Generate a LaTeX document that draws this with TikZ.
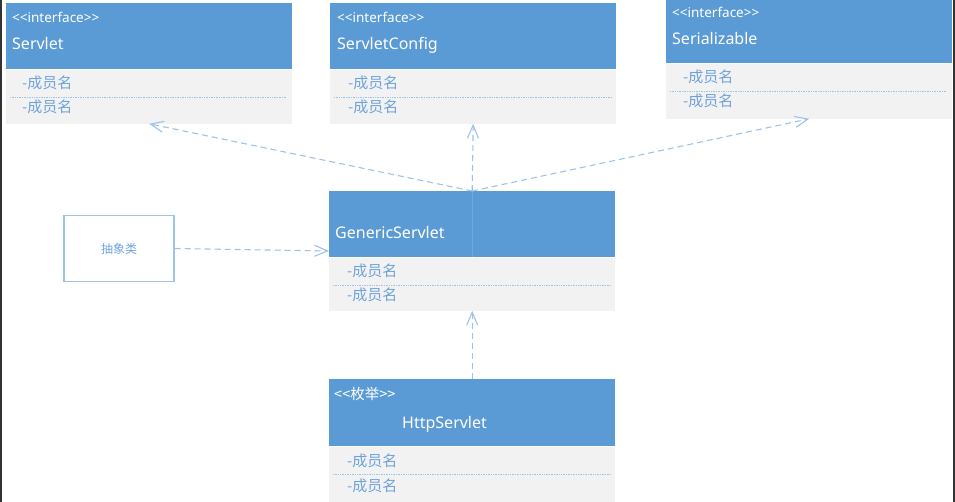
\documentclass[tikz,border=0pt]{standalone}
\usepackage{fontspec}
\setmainfont{Noto Sans}
\newfontfamily\cjk{Noto Sans CJK SC}
\usetikzlibrary{arrows.meta}

\definecolor{hdrblue}{HTML}{5B9BD5}
\definecolor{bodygray}{HTML}{F2F2F2}
\definecolor{linkblue}{HTML}{9DC3E6}
\definecolor{membertext}{HTML}{6FA3DB}

\tikzset{
  header/.style={fill=hdrblue, anchor=north west, inner sep=0pt, minimum width=286pt},
  body/.style={fill=bodygray, anchor=north west, inner sep=0pt, minimum width=286pt},
  stereo/.style={anchor=base west, text=white, inner sep=0pt, font=\fontsize{13.5}{16}\selectfont},
  classname/.style={anchor=base west, text=white, inner sep=0pt, font=\fontsize{16}{19}\selectfont},
  member/.style={anchor=base west, text=membertext, inner sep=0pt, font=\cjk\fontsize{15}{17}\selectfont},
  divider/.style={draw=linkblue, densely dotted, line width=0.7pt},
  realize/.style={draw=linkblue, dash pattern=on 6pt off 4pt, line width=1.1pt,
    -{Straight Barb[length=13pt,width=11pt]}},
}

\begin{document}
\begin{tikzpicture}[x=1pt, y=-1pt]
\useasboundingbox (0,0) rectangle (955,502);
% window edges
\draw[black!80, line width=1.5pt] (0.75,0) -- (0.75,502);
\draw[black!80, line width=1.5pt] (954,0) -- (954,502);

% Servlet
\node[header, minimum height=66pt] (servletH) at (6,3) {};
\node[body, minimum height=54pt] (servletB) at (servletH.south west) {};
\node[stereo] (servletS) at (12,23) {<{}<interface>{}>};
\node[classname] (servletN) at (12,50) {Servlet};
\node[member] (servletM1) at (22,89) {-成员名};
\node[member] (servletM2) at (22,112.5) {-成员名};
\draw[divider] (10,97) -- (287,97);

% ServletConfig
\node[header, minimum height=66pt] (configH) at (330,3) {};
\node[body, minimum height=54pt] (configB) at (configH.south west) {};
\node[stereo] (configS) at (337,23) {<{}<interface>{}>};
\node[classname] (configN) at (337,50) {ServletConfig};
\node[member] (configM1) at (348,89) {-成员名};
\node[member] (configM2) at (348,112.5) {-成员名};
\draw[divider] (334,97) -- (612,97);

% Serializable
\node[header, minimum height=63pt] (serialH) at (666,0) {};
\node[body, minimum height=55pt] (serialB) at (serialH.south west) {};
\node[stereo] (serialS) at (672,17.5) {<{}<interface>{}>};
\node[classname] (serialN) at (672,45) {Serializable};
\node[member] (serialM1) at (683,83) {-成员名};
\node[member] (serialM2) at (683,107) {-成员名};
\draw[divider] (670,91) -- (947,91);

% GenericServlet
\node[header, minimum height=66pt] (genH) at (329,191) {};
\node[body, minimum height=53pt] (genB) at (genH.south west) {};
\node[classname] (genN) at (335,239) {GenericServlet};
\node[member] (genM1) at (347,276.5) {-成员名};
\node[member] (genM2) at (347,301) {-成员名};
\draw[divider] (333,285) -- (611,285);
\draw[linkblue, opacity=0.35, line width=0.8pt] (genH.north) -- (genH.south);

% HttpServlet
\node[header, minimum height=67pt] (httpH) at (329,379) {};
\node[body, minimum height=55pt] (httpB) at (httpH.south west) {};
\node[stereo, font=\cjk\fontsize{14.5}{17}\selectfont] (httpS) at (334,399.5) {<<枚举>>};
\node[classname] (httpN) at (402,428) {HttpServlet};
\node[member] (httpM1) at (347,466.5) {-成员名};
\node[member] (httpM2) at (347,491) {-成员名};
\draw[divider] (333,474) -- (611,474);

% abstract class box
\node[draw=linkblue, line width=1.2pt, minimum width=110pt, minimum height=66pt, inner sep=0pt,
  text=membertext, font=\cjk\fontsize{12}{14}\selectfont] (abstract) at (119,248.5) {抽象类};
\coordinate (genIn) at (329,251);

% realisations
\draw[realize] (genH.north) -- (servletB.south);
\draw[realize] (genH.north) -- (configB.south);
\draw[realize] (genH.north) -- (serialB.south);
\draw[realize] (abstract.east) -- (genIn);
\draw[realize] (httpH.north) -- (genB.south);
\end{tikzpicture}
\end{document}
